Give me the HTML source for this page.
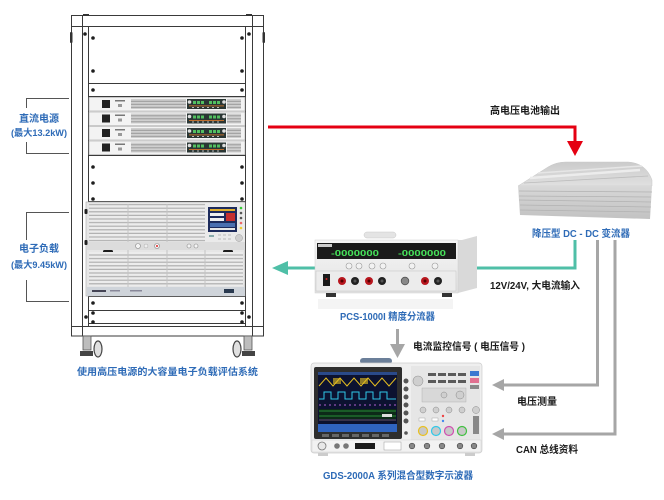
<!DOCTYPE html>
<html><head><meta charset="utf-8">
<style>
html,body{margin:0;padding:0;background:#fff;}
svg{display:block;}
text{font-family:"Liberation Sans","Noto Sans CJK SC",sans-serif;font-weight:bold;}
.b{fill:#2e6bb7;}
.k{fill:#1a1a1a;}
</style></head>
<body>
<svg width="664" height="500" viewBox="0 0 664 500" xmlns="http://www.w3.org/2000/svg">
<defs>
  <pattern id="grill" width="4" height="3.6" patternUnits="userSpaceOnUse">
    <rect width="4" height="3.6" fill="#ececec"/>
    <rect y="2.4" width="4" height="1.2" fill="#b0b0b0"/>
  </pattern>
  <pattern id="psg" width="3" height="3" patternUnits="userSpaceOnUse">
    <rect width="3" height="3" fill="#cfcfcf"/>
    <rect y="1.8" width="3" height="1" fill="#9a9a9a"/>
  </pattern>
  <linearGradient id="box" x1="0" y1="0" x2="0" y2="1">
    <stop offset="0" stop-color="#d8d8d8"/><stop offset="1" stop-color="#c2c2c2"/>
  </linearGradient>
  <linearGradient id="boxtop" x1="0" y1="0" x2="0" y2="1">
    <stop offset="0" stop-color="#cbcbcb"/><stop offset="1" stop-color="#e0e0e0"/>
  </linearGradient>
  <linearGradient id="dev" x1="0" y1="0" x2="0" y2="1">
    <stop offset="0" stop-color="#f6f6f6"/><stop offset="1" stop-color="#e2e2e2"/>
  </linearGradient>
</defs>

<!-- ================= RACK ================= -->
<g stroke="#3a3a3a" stroke-width="1" fill="#fff">
  <rect x="71.5" y="15.5" width="11" height="320"/>
  <rect x="252.5" y="15.5" width="11" height="320"/>
  <rect x="71.5" y="15.5" width="192" height="11"/>
  <line x1="82.5" y1="15.5" x2="82.5" y2="26.5"/>
  <line x1="252.5" y1="15.5" x2="252.5" y2="26.5"/>
  <line x1="88.5" y1="26.5" x2="88.5" y2="327"/>
  <line x1="245.5" y1="26.5" x2="245.5" y2="327"/>
  <rect x="71.5" y="326.5" width="192" height="9.5"/>
  <line x1="82.5" y1="326.5" x2="82.5" y2="336"/>
  <line x1="252.5" y1="326.5" x2="252.5" y2="336"/>
</g>
<g stroke="#3a3a3a" stroke-width="1">
  <line x1="88.5" y1="83.5" x2="245.5" y2="83.5"/>
  <line x1="88.5" y1="96.5" x2="245.5" y2="96.5"/>
  <line x1="88.5" y1="155.5" x2="245.5" y2="155.5"/>
  <line x1="88.5" y1="201.5" x2="245.5" y2="201.5"/>
  <line x1="88.5" y1="296.5" x2="245.5" y2="296.5"/>
  <line x1="88.5" y1="310.5" x2="245.5" y2="310.5"/>
  <line x1="88.5" y1="323.5" x2="245.5" y2="323.5"/>
</g>
<g fill="#333">
  <rect x="70" y="32" width="2.5" height="11" rx="1"/>
  <rect x="262.5" y="32" width="2.5" height="11" rx="1"/>
  <rect x="83" y="14" width="6" height="2" />
  <rect x="246" y="14" width="6" height="2" />
</g>
<g fill="#1e1e1e">
  <circle cx="85" cy="34" r="1.8"/><circle cx="249" cy="34" r="1.8"/>
  <circle cx="93" cy="38" r="1.8"/><circle cx="242" cy="38" r="1.8"/>
  <circle cx="93" cy="71" r="1.8"/><circle cx="242" cy="71" r="1.8"/>
  <circle cx="93" cy="90" r="1.8"/><circle cx="242" cy="90" r="1.8"/>
  <circle cx="93" cy="167" r="1.8"/><circle cx="242" cy="167" r="1.8"/>
  <circle cx="93" cy="183" r="1.8"/><circle cx="242" cy="183" r="1.8"/>
  <circle cx="93" cy="199" r="1.8"/><circle cx="242" cy="199" r="1.8"/>
  <circle cx="93" cy="303" r="1.8"/><circle cx="242" cy="303" r="1.8"/>
  <circle cx="93" cy="313" r="1.8"/><circle cx="242" cy="313" r="1.8"/>
  <circle cx="93" cy="322" r="1.8"/><circle cx="242" cy="322" r="1.8"/>
  <circle cx="86" cy="317" r="1.8"/><circle cx="249" cy="317" r="1.8"/>
</g>
<!-- casters -->
<g>
  <rect x="83" y="336" width="8" height="14" fill="#bdbdbd" stroke="#555" stroke-width="0.8"/>
  <rect x="80" y="351" width="13" height="5" fill="#444"/>
  <ellipse cx="98" cy="349" rx="4" ry="8" fill="#e0e0e0" stroke="#444" stroke-width="1.2"/>
  <rect x="244" y="336" width="8" height="14" fill="#bdbdbd" stroke="#555" stroke-width="0.8"/>
  <rect x="242" y="351" width="13" height="5" fill="#444"/>
  <ellipse cx="237" cy="349" rx="4" ry="8" fill="#e0e0e0" stroke="#444" stroke-width="1.2"/>
</g>

<!-- power supplies -->
<g id="ps">
  <rect x="89" y="97.5" width="156" height="13.5" fill="#f3f3f3" stroke="#aaa" stroke-width="0.6"/>
  <rect x="102" y="100" width="8" height="8" fill="#222"/>
  <rect x="115" y="100" width="10" height="1.5" fill="#777"/>
  <rect x="118" y="104" width="4" height="3" fill="#999"/>
  <rect x="131" y="99" width="55" height="10" fill="url(#psg)"/>
  <rect x="187" y="99" width="39" height="10" fill="#2a3634"/>
  <g fill="#52c060">
    <rect x="193" y="101" width="3" height="3"/><rect x="197" y="101" width="3" height="3"/><rect x="201" y="101" width="3" height="3"/>
    <rect x="209" y="101" width="3" height="3"/><rect x="213" y="101" width="3" height="3"/><rect x="217" y="101" width="3" height="3"/>
  </g>
  <rect x="189" y="105.5" width="35" height="0.8" fill="#e07a2a"/>
  <g fill="#bbb"><rect x="192" y="107" width="2" height="1"/><rect x="197" y="107" width="2" height="1"/><rect x="202" y="107" width="2" height="1"/><rect x="207" y="107" width="2" height="1"/><rect x="212" y="107" width="2" height="1"/><rect x="217" y="107" width="2" height="1"/></g>
  <circle cx="189.5" cy="102" r="1.8" fill="#ddd"/>
  <circle cx="224" cy="102" r="1.8" fill="#ddd"/>
  <rect x="227" y="99" width="14" height="10" fill="url(#psg)"/>
</g>
<use href="#ps" y="14.5"/>
<use href="#ps" y="29"/>
<use href="#ps" y="43.5"/>

<!-- electronic load -->
<g>
  <rect x="86" y="202" width="159" height="94" fill="#e6e6e6" stroke="#aaa" stroke-width="0.6"/>
  <rect x="89" y="204" width="116" height="38" fill="url(#grill)"/>
  <line x1="128" y1="204" x2="128" y2="242" stroke="#c4c4c4"/>
  <line x1="167" y1="204" x2="167" y2="242" stroke="#c4c4c4"/>
  <rect x="205" y="203" width="40" height="40" fill="#eaeaea"/>
  <rect x="208" y="207" width="29" height="25" fill="#1d2b5c"/>
  <rect x="210" y="209" width="25" height="2" fill="#e0b030"/>
  <rect x="210" y="213" width="14" height="3" fill="#f0f0f0"/>
  <rect x="210" y="218" width="14" height="3" fill="#f0f0f0"/>
  <rect x="226" y="213" width="9" height="8" fill="#c43030"/>
  <rect x="210" y="223" width="25" height="4" fill="#4a6fb0"/>
  <rect x="210" y="228" width="25" height="2" fill="#e8e8e8"/>
  <circle cx="241" cy="208" r="1.3" fill="#3c3"/>
  <circle cx="241" cy="213" r="1.3" fill="#555"/>
  <circle cx="241" cy="218" r="1.3" fill="#555"/>
  <circle cx="241" cy="223" r="1.3" fill="#e66"/>
  <circle cx="241" cy="228" r="1.3" fill="#ec3"/>
  <circle cx="239" cy="238" r="3.5" fill="#cfcfcf" stroke="#999" stroke-width="0.5"/>
  <g fill="#d2d2d2"><rect x="218" y="234" width="3" height="2"/><rect x="223" y="234" width="3" height="2"/><rect x="228" y="234" width="3" height="2"/><rect x="218" y="238" width="3" height="2"/><rect x="223" y="238" width="3" height="2"/><rect x="228" y="238" width="3" height="2"/><rect x="209" y="235" width="5" height="2" fill="#8aa"/></g>
  <rect x="87" y="242" width="158" height="8" fill="#dcdcdc"/>
  <circle cx="138" cy="246" r="2.5" fill="#f4f4f4" stroke="#888" stroke-width="0.6"/>
  <circle cx="146" cy="246" r="2" fill="#eee" stroke="#aaa" stroke-width="0.5"/>
  <circle cx="157" cy="246" r="2.5" fill="#f4f4f4" stroke="#888" stroke-width="0.6"/>
  <circle cx="157" cy="246" r="1" fill="#d22"/>
  <circle cx="189" cy="246" r="2" fill="#f4f4f4" stroke="#888" stroke-width="0.6"/>
  <circle cx="196" cy="246" r="2" fill="#f4f4f4" stroke="#888" stroke-width="0.6"/>
  <rect x="103" y="250" width="10" height="6" rx="1.5" fill="#1c1c1c"/>
  <rect x="223" y="250" width="10" height="6" rx="1.5" fill="#1c1c1c"/>
  <rect x="89" y="252" width="154" height="34" fill="url(#grill)"/>
  <line x1="128" y1="250" x2="128" y2="287" stroke="#c4c4c4"/>
  <line x1="167" y1="250" x2="167" y2="287" stroke="#c4c4c4"/>
  <line x1="205" y1="250" x2="205" y2="287" stroke="#c4c4c4"/>
  <rect x="87" y="287" width="158" height="9" fill="#cfd4da"/>
  <rect x="92" y="290" width="14" height="2" fill="#445"/>
  <rect x="110" y="290" width="10" height="1.5" fill="#889"/>
  <rect x="130" y="290" width="12" height="1.5" fill="#889"/>
  <rect x="224" y="289" width="10" height="4" fill="#2a3a50"/>
  <rect x="84.5" y="209" width="3" height="5" rx="1" fill="#222"/>
  <rect x="84.5" y="240" width="3" height="5" rx="1" fill="#222"/>
</g>

<!-- brackets -->
<g stroke="#555" stroke-width="1" fill="none">
  <polyline points="69,98.5 26.5,98.5 26.5,108"/>
  <polyline points="26.5,142 26.5,153.5 69,153.5"/>
  <polyline points="69,212.5 26.5,212.5 26.5,240"/>
  <polyline points="26.5,280 26.5,301.5 69,301.5"/>
</g>
<text class="b" x="39" y="122" font-size="10" text-anchor="middle">直流电源</text>
<text class="b" x="39" y="136" font-size="9.5" text-anchor="middle" textLength="56" lengthAdjust="spacingAndGlyphs">(最大13.2kW)</text>
<text class="b" x="39" y="252" font-size="10" text-anchor="middle">电子负载</text>
<text class="b" x="39" y="268" font-size="9.5" text-anchor="middle" textLength="56" lengthAdjust="spacingAndGlyphs">(最大9.45kW)</text>
<text class="b" x="77" y="375" font-size="9.5" textLength="181" lengthAdjust="spacingAndGlyphs">使用高压电源的大容量电子负载评估系统</text>

<!-- ================= ARROWS ================= -->
<polyline points="268,127 575,127 575,143" fill="none" stroke="#e50012" stroke-width="3"/>
<polygon points="567,141 583,141 575,156" fill="#e50012"/>
<text class="k" x="490" y="114" font-size="10" textLength="70" lengthAdjust="spacingAndGlyphs">高电压电池输出</text>

<polyline points="575,240 575,268 286,268" fill="none" stroke="#4fbfa7" stroke-width="3"/>
<polygon points="272,268 288,261 288,275" fill="#4fbfa7"/>

<polyline points="597.5,240 597.5,385 503,385" fill="none" stroke="#a6a6a6" stroke-width="3"/>
<polygon points="492,385 504,379 504,391" fill="#a6a6a6"/>
<polyline points="615,240 615,434 503,434" fill="none" stroke="#a6a6a6" stroke-width="3"/>
<polygon points="492,434 504,428 504,440" fill="#a6a6a6"/>

<line x1="397.5" y1="329" x2="397.5" y2="346" stroke="#a6a6a6" stroke-width="3"/>
<polygon points="390,344 405,344 397.5,358" fill="#a6a6a6"/>

<text class="k" x="490" y="289" font-size="10" textLength="90" lengthAdjust="spacingAndGlyphs">12V/24V, 大电流输入</text>
<text class="k" x="413" y="350" font-size="10" textLength="112" lengthAdjust="spacingAndGlyphs">电流监控信号 ( 电压信号 )</text>
<text class="k" x="517" y="405" font-size="10" textLength="40" lengthAdjust="spacingAndGlyphs">电压测量</text>
<text class="k" x="516" y="453" font-size="10" textLength="62" lengthAdjust="spacingAndGlyphs">CAN 总线资料</text>

<!-- ================= DC-DC converter ================= -->
<g>
  <path d="M518,186 L548,167 Q556,162 566,162 L628,162 Q646,163 652,180 L652,186 Z" fill="url(#boxtop)" stroke="#c8c8c8" stroke-width="0.5"/>
  <path d="M530,178 L640,170" stroke="#ececec" stroke-width="2.5"/>
  <path d="M538,173 L642,166" stroke="#e6e6e6" stroke-width="1.5"/>
  <path d="M524,183 L648,176" stroke="#bcbcbc" stroke-width="0.8"/>
  <path d="M518,186 L652,186 L650,219 L520,215 Z" fill="url(#box)"/>
  <g stroke="#b2b2b2" stroke-width="0.7">
    <line x1="519" y1="191" x2="652" y2="192"/>
    <line x1="519" y1="196" x2="651" y2="197"/>
    <line x1="519" y1="200" x2="651" y2="202"/>
    <line x1="520" y1="205" x2="651" y2="207"/>
    <line x1="520" y1="210" x2="650" y2="212"/>
  </g>
</g>
<text class="b" x="532" y="237" font-size="10" textLength="98" lengthAdjust="spacingAndGlyphs">降压型 DC - DC 变流器</text>

<!-- ================= PCS-1000I ================= -->
<g>
  <rect x="364" y="232" width="32" height="6" rx="3" fill="#e4e4e4" stroke="#c8c8c8" stroke-width="0.5"/>
  <path d="M315,240 L462,240 L477,236 L477,288 L458,293 L315,293 Z" fill="#d9d9d9"/>
  <rect x="315" y="240" width="143" height="53" fill="url(#dev)" stroke="#cfcfcf" stroke-width="0.5"/>
  <rect x="317" y="243" width="139" height="16" fill="#1b1b1b"/>
  <rect x="318" y="244" width="14" height="3" fill="#ccc"/>
  <text x="331" y="256" font-size="8.5" fill="#46e35a" font-family="Liberation Mono,monospace" textLength="48" lengthAdjust="spacingAndGlyphs">-0000000</text>
  <text x="398" y="256" font-size="8.5" fill="#46e35a" font-family="Liberation Mono,monospace" textLength="48" lengthAdjust="spacingAndGlyphs">-0000000</text>
  <g fill="#f2f2f2" stroke="#999" stroke-width="0.6">
    <circle cx="349" cy="266" r="3"/><circle cx="359" cy="266" r="3"/>
    <circle cx="372" cy="266" r="3"/><circle cx="383" cy="266" r="3"/>
    <circle cx="412" cy="266" r="3"/><circle cx="435" cy="266" r="3"/>
  </g>
  <rect x="316" y="271" width="140" height="20" fill="#ececec" stroke="#bbb" stroke-width="0.4"/>
  <rect x="323" y="274" width="7" height="12" fill="#1a1a1a"/>
  <circle cx="326.5" cy="279" r="1" fill="#c22"/>
  <g>
    <circle cx="342" cy="281" r="4" fill="#b8161e"/><circle cx="342" cy="281" r="1.5" fill="#500"/>
    <circle cx="355" cy="281" r="4" fill="#222"/><circle cx="355" cy="281" r="1.5" fill="#555"/>
    <circle cx="369" cy="281" r="4" fill="#b8161e"/><circle cx="369" cy="281" r="1.5" fill="#500"/>
    <circle cx="382" cy="281" r="4" fill="#222"/><circle cx="382" cy="281" r="1.5" fill="#555"/>
    <circle cx="405" cy="281" r="3.8" fill="#888" stroke="#555" stroke-width="0.8"/>
    <circle cx="425" cy="281" r="4" fill="#b8161e"/><circle cx="425" cy="281" r="1.5" fill="#500"/>
    <circle cx="438" cy="281" r="4" fill="#222"/><circle cx="438" cy="281" r="1.5" fill="#555"/>
  </g>
  <rect x="326" y="293" width="10" height="4" fill="#333"/>
  <rect x="442" y="293" width="10" height="4" fill="#333"/>
  <rect x="318" y="299" width="135" height="10" fill="#f4f4f4"/>
</g>
<text class="b" x="340" y="320" font-size="10" textLength="95" lengthAdjust="spacingAndGlyphs">PCS-1000I 精度分流器</text>

<!-- ================= Oscilloscope ================= -->
<g>
  <rect x="360" y="358" width="32" height="6" rx="3" fill="#6b7f99"/>
  <rect x="311" y="363" width="171" height="90" rx="3" fill="#efefef" stroke="#cdcdcd" stroke-width="0.7"/>
  <rect x="314" y="367" width="88" height="72" rx="2" fill="#2e2e2e"/>
  <rect x="318" y="372" width="79" height="60" fill="#0c1230"/>
  <rect x="318" y="372" width="79" height="3" fill="#2a4a8a"/>
  <polyline points="319,386 326,378 333,386 340,378 347,386 354,378 361,386 368,378 375,386 382,378 389,386 396,378" fill="none" stroke="#e8c020" stroke-width="1"/>
  <rect x="333" y="378" width="8" height="6" fill="#e8c020" opacity="0.6"/>
  <rect x="360" y="378" width="8" height="6" fill="#e8c020" opacity="0.6"/>
  <polyline points="319,399 324,399 324,392 331,392 331,399 338,399 338,392 345,392 345,399 352,399 352,392 359,392 359,399 366,399 366,392 373,392 373,399 380,399 380,392 387,392 387,399 396,399" fill="none" stroke="#30c8e8" stroke-width="1"/>
  <line x1="319" y1="405" x2="396" y2="405" stroke="#b060d0" stroke-width="1" stroke-dasharray="2,3"/>
  <rect x="319" y="409" width="77" height="12" fill="#0d2a18"/>
  <line x1="319" y1="411" x2="396" y2="411" stroke="#30b040" stroke-width="0.8"/>
  <line x1="319" y1="416" x2="396" y2="416" stroke="#30b040" stroke-width="0.8"/>
  <line x1="319" y1="420" x2="396" y2="420" stroke="#8040a0" stroke-width="0.8"/>
  <rect x="382" y="414" width="10" height="3" fill="#ddd"/>
  <rect x="318" y="424" width="79" height="8" fill="#2f64c0"/>
  <g fill="#555">
    <circle cx="406" cy="381" r="2.5"/><circle cx="406" cy="389" r="2.5"/><circle cx="406" cy="397" r="2.5"/>
    <circle cx="406" cy="405" r="2.5"/><circle cx="406" cy="413" r="2.5"/><circle cx="406" cy="421" r="2.5"/>
    <circle cx="406" cy="433" r="1.8"/>
  </g>
  <g fill="#666">
    <rect x="322" y="434" width="7" height="3"/><rect x="332" y="434" width="7" height="3"/><rect x="342" y="434" width="7" height="3"/>
    <rect x="352" y="434" width="7" height="3"/><rect x="362" y="434" width="7" height="3"/><rect x="372" y="434" width="7" height="3"/>
    <rect x="382" y="434" width="7" height="3"/>
  </g>
  <rect x="411" y="366" width="69" height="74" fill="#e6e6e6"/>
  <circle cx="418" cy="381" r="5" fill="#cfcfcf" stroke="#999" stroke-width="0.6"/>
  <g fill="#5a5a5a">
    <rect x="428" y="373" width="8" height="3"/><rect x="438" y="373" width="8" height="3"/><rect x="448" y="373" width="8" height="3"/><rect x="458" y="373" width="8" height="3"/>
    <rect x="428" y="380" width="8" height="3"/><rect x="438" y="380" width="8" height="3"/><rect x="448" y="380" width="8" height="3"/><rect x="458" y="380" width="8" height="3"/>
  </g>
  <rect x="470" y="371" width="9" height="5" fill="#3a78d0"/>
  <rect x="470" y="378" width="9" height="5" fill="#e07090"/>
  <rect x="470" y="385" width="9" height="4" fill="#888"/>
  <rect x="422" y="388" width="44" height="14" fill="#d8d8d8" stroke="#aaa" stroke-width="0.4"/>
  <circle cx="444" cy="395" r="3" fill="#cfcfcf" stroke="#888" stroke-width="0.5"/>
  <circle cx="460" cy="395" r="4" fill="#cfcfcf" stroke="#888" stroke-width="0.5"/>
  <g fill="#cfcfcf" stroke="#888" stroke-width="0.5">
    <circle cx="423" cy="410" r="3"/><circle cx="436" cy="410" r="3"/><circle cx="449" cy="410" r="3"/><circle cx="462" cy="410" r="3"/>
    <circle cx="476" cy="410" r="3.5"/>
  </g>
  <rect x="419" y="418" width="6" height="3" fill="#fff" stroke="#999" stroke-width="0.4"/>
  <rect x="432" y="418" width="6" height="3" fill="#fff" stroke="#999" stroke-width="0.4"/>
  <circle cx="443" cy="416" r="1.2" fill="#e44"/><circle cx="443" cy="421" r="1.2" fill="#48e"/>
  <rect x="473" y="416" width="6" height="18" fill="#888"/>
  <g stroke-width="1.2">
    <circle cx="423" cy="431" r="4.5" fill="#c8c8c8" stroke="#e8c020"/>
    <circle cx="436" cy="431" r="4.5" fill="#c8c8c8" stroke="#30c8e8"/>
    <circle cx="449" cy="431" r="4.5" fill="#c8c8c8" stroke="#d050b0"/>
    <circle cx="462" cy="431" r="4.5" fill="#c8c8c8" stroke="#40c040"/>
  </g>
  <rect x="312" y="440" width="169" height="12" fill="#f2f2f2" stroke="#d0d0d0" stroke-width="0.5"/>
  <circle cx="322" cy="446" r="4" fill="#e8e8e8" stroke="#777" stroke-width="0.8"/>
  <circle cx="337" cy="446" r="2.8" fill="#777"/><circle cx="346" cy="446" r="2.8" fill="#777"/>
  <rect x="355" y="443" width="20" height="6" fill="#1a1a1a"/>
  <rect x="384" y="442" width="17" height="8" fill="#fff" stroke="#999" stroke-width="0.5"/>
  <g fill="#888" stroke="#444" stroke-width="0.6">
    <circle cx="412" cy="446" r="2.8"/><circle cx="427" cy="446" r="2.8"/><circle cx="442" cy="446" r="2.8"/>
    <circle cx="460" cy="446" r="2.8"/><circle cx="474" cy="446" r="2.8"/>
  </g>
  <rect x="318" y="453" width="10" height="3" fill="#ccc"/>
  <rect x="465" y="453" width="10" height="3" fill="#ccc"/>
</g>
<text class="b" x="323" y="479" font-size="10" textLength="150" lengthAdjust="spacingAndGlyphs">GDS-2000A 系列混合型数字示波器</text>
</svg>
</body></html>
